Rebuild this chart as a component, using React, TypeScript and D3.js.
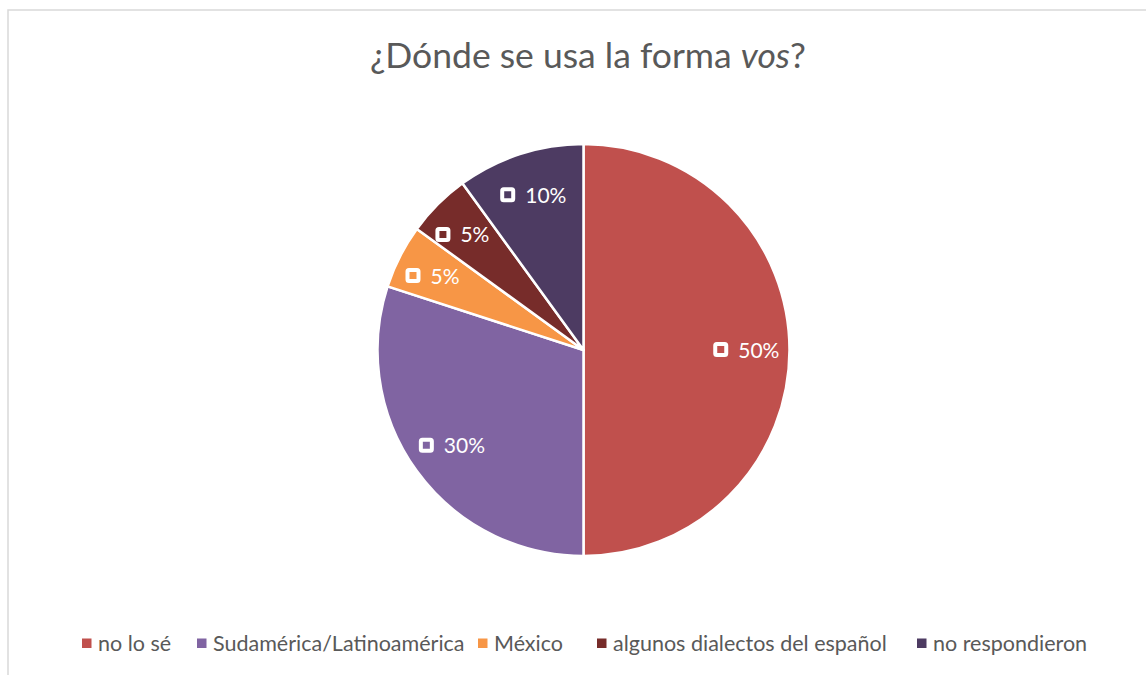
import React from 'react';
import * as d3 from 'd3';

// Datos del gráfico
const categories = ['no lo sé', 'Sudamérica/Latinoamérica', 'México', 'algunos dialectos del español', 'no respondieron'];
const shares = [50, 30, 5, 5, 10];
const sliceColors = ['#C0504D', '#8064A2', '#F79646', '#772C2A', '#4D3B62'];

const W = 1146;
const H = 675;
const FONT = 'Lato, "Open Sans", sans-serif';
const TEXT = '#595959';

const App = () => {
  const cx = 583.5;
  const cy = 350;
  const r = 206;

  const pie = d3.pie<number>().value(d => d).sort(null);
  const arcs = pie(shares);
  const arc = d3.arc<d3.PieArcDatum<number>>().innerRadius(0).outerRadius(r);
  const labelArc = d3.arc<d3.PieArcDatum<number>>().innerRadius(r * 0.79).outerRadius(r * 0.79);
  const fmt = d3.format('.0%');

  const legendFont = 21.5;
  const legendX = [82, 197, 478, 597, 917];

  return (
    <svg width={W} height={H} style={{ position: 'absolute', left: 0, top: 0, fontFamily: FONT }}>
      <rect x={0} y={0} width={W} height={H} fill="#fff" />
      <rect x={8} y={10} width={W} height={H} fill="#fff" stroke="#D9D9D9" strokeWidth={1.5} />

      <text x={588} y={68} textAnchor="middle" fontSize={35.5} fill={TEXT}>
        ¿Dónde se usa la forma <tspan fontStyle="italic">vos</tspan>?
      </text>

      <g transform={`translate(${cx},${cy})`}>
        {arcs.map((a, i) => (
          <path key={categories[i]} d={arc(a) || ''} fill={sliceColors[i]} stroke="#fff" strokeWidth={2.5} strokeLinejoin="round" />
        ))}
        {arcs.map((a, i) => {
          const [lx, ly] = labelArc.centroid(a);
          return (
            <g key={'l' + i} transform={`translate(${lx},${ly})`}>
              <rect x={-31} y={-6} width={11} height={11} rx={1.5} fill={sliceColors[i]} stroke="#fff" strokeWidth={4} />
              <text x={-8} y={7.5} fontSize={21} fill="#fff">{fmt(shares[i] / 100)}</text>
            </g>
          );
        })}
      </g>

      <g>
        {categories.map((c, i) => (
          <g key={c} transform={`translate(${legendX[i]},643)`}>
            <rect x={0} y={-4.5} width={9.5} height={9.5} fill={sliceColors[i]} />
            <text x={16} y={8} fontSize={legendFont} fill={TEXT}>{c}</text>
          </g>
        ))}
      </g>
    </svg>
  );
};

export default App;
